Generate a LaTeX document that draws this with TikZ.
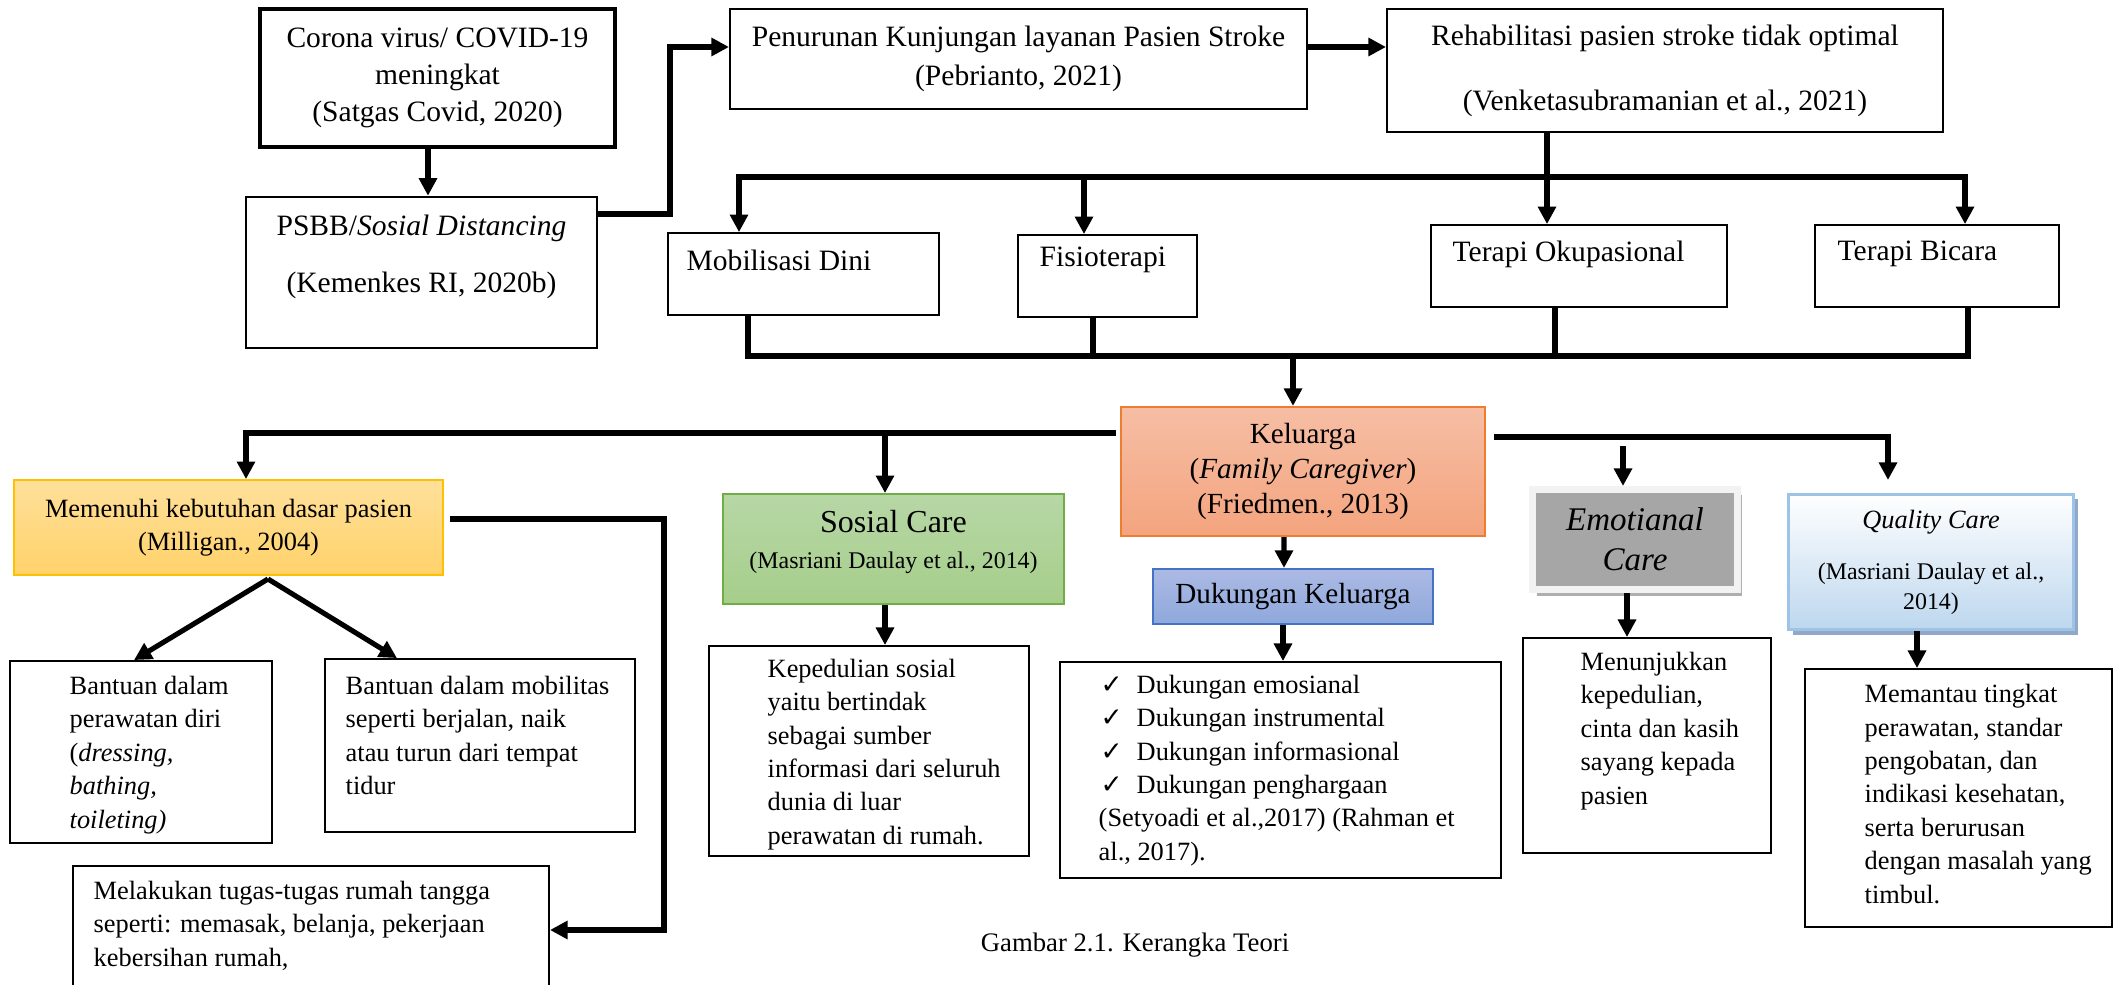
\documentclass[tikz,border=0pt]{standalone}
\usepackage{fontspec}
\setmainfont{Liberation Serif}
\newfontfamily\checkfont{DejaVu Sans}
\usetikzlibrary{arrows.meta,shadows,positioning}

\definecolor{goldline}{RGB}{255,192,0}
\definecolor{goldtop}{RGB}{255,224,155}
\definecolor{goldbot}{RGB}{255,210,106}
\definecolor{greenline}{RGB}{112,173,71}
\definecolor{greentop}{RGB}{183,215,166}
\definecolor{greenbot}{RGB}{166,206,138}
\definecolor{orangeline}{RGB}{237,125,49}
\definecolor{salmontop}{RGB}{246,190,165}
\definecolor{salmonbot}{RGB}{244,164,126}
\definecolor{blueline}{RGB}{68,114,196}
\definecolor{bluetop}{RGB}{172,186,228}
\definecolor{bluebot}{RGB}{142,168,219}
\definecolor{framegray}{RGB}{242,242,242}
\definecolor{midgray}{RGB}{166,166,166}
\definecolor{shadowgray}{RGB}{175,175,175}
\definecolor{skyline}{RGB}{157,195,230}
\definecolor{skyfill}{RGB}{189,215,238}
\definecolor{skyshadow}{RGB}{145,168,200}

\newcommand{\tickmark}{\hspace*{0.02cm}\makebox[0.36cm][l]{\checkfont\fontsize{7.5}{8}\selectfont ✓}}

\begin{document}
\begin{tikzpicture}[x=0.01cm,y=-0.01cm,>={Triangle[width=5pt,length=5pt]}]
	\tikzstyle{plain box}=[draw=black,line width=0.5pt,inner sep=0pt]
	\tikzstyle{head text}=[font=\fontsize{8.4}{10.5}\selectfont,align=center]
	\tikzstyle{desc text}=[font=\fontsize{7.5}{9.5}\selectfont,align=left,anchor=west,inner sep=0pt]
	\tikzstyle{cite text}=[font=\fontsize{6.8}{8.5}\selectfont,align=center]
	\tikzstyle{link line}=[line width=1.45pt]
	\tikzstyle{flow arrow}=[link line,->]
	
	\useasboundingbox (0,0) rectangle (2115,985);
	\clip (0,0) rectangle (2115,985);
	
	% Draw the top row
	\node[plain box,line width=1pt,minimum width=3.55cm,minimum height=1.38cm,head text] (A-1) at (437.5,78) {Corona virus/ COVID-19\\meningkat\\(Satgas Covid, 2020)};
	\node[plain box,line width=0.7pt,minimum width=3.51cm,minimum height=1.51cm] (A-2) at (421.5,272.5) {};
	\node[head text,inner sep=0pt] (A-2-t) at (421.5,256.5) {PSBB/\textit{Sosial Distancing}\\[0.2cm](Kemenkes RI, 2020b)};
	\node[plain box,minimum width=5.77cm,minimum height=1cm,head text,font=\fontsize{8.4}{11.3}\selectfont] (A-3) at (1018.5,59) {Penurunan Kunjungan layanan Pasien Stroke\\(Pebrianto, 2021)};
	\node[plain box,minimum width=5.56cm,minimum height=1.23cm,head text] (A-4) at (1665,70.5) {Rehabilitasi pasien stroke tidak optimal\\[0.28cm](Venketasubramanian et al., 2021)};
	
	% Connect the top row
	\coordinate (P-0) at (428,0);
	\draw[flow arrow] (A-1.south -| P-0) -- (A-2.north -| P-0);
	\coordinate (P-1) at (670,214);
	\draw[flow arrow] (A-2.east |- P-1) -- (P-1) -- (P-1 |- 0,47) -- (A-3.west |- 0,47);
	\draw[flow arrow] (A-3.east |- 0,47) -- (A-4.west |- 0,47);
	
	% Draw the rehabilitation nodes
	\foreach \i/\x/\y/\w/\tx/\ty/\lbl in {1/803.5/274/2.71/686/260/Mobilisasi Dini,
		2/1107.5/276/1.79/1039/260/Fisioterapi,
		3/1579/266/2.96/1452/254/Terapi Okupasional,
		4/1937/266/2.44/1837/254/Terapi Bicara}{
		\node[plain box,minimum width=\w cm,minimum height=0.82cm] (R-\i) at (\x,\y) {};
		\node[head text,anchor=west,inner sep=0pt] (R-\i-t) at (\tx,\ty) {\lbl};
	}
	
	% Split the rehabilitation into its four parts
	\coordinate (B-1) at (739,177);
	\coordinate (B-2) at (1084,177);
	\coordinate (B-3) at (1547,177);
	\coordinate (B-4) at (1965,177);
	\draw[link line] (A-4.south -| B-3) -- (B-3);
	\draw[link line,line cap=rect] (B-1) -- (B-4);
	\foreach \i in {1,...,4}
	\draw[flow arrow] (B-\i) -- (B-\i |- R-\i.north);
	
	% Join the four parts again
	\coordinate (U-0) at (1293,356);
	\coordinate (U-1) at (748,356);
	\coordinate (U-2) at (1093,356);
	\coordinate (U-3) at (1555,356);
	\coordinate (U-4) at (1968,356);
	\foreach \i in {1,...,4}
	\draw[link line] (R-\i.south -| U-\i) -- (U-\i);
	\draw[link line,line cap=rect] (U-1) -- (U-4);
	
	% Draw the family node
	\node[plain box,draw=orangeline,line width=0.6pt,top color=salmontop,bottom color=salmonbot,minimum width=3.64cm,minimum height=1.29cm,head text,font=\fontsize{8.3}{9.9}\selectfont] (K) at (1303,471.5) {Keluarga\\(\textit{Family Caregiver})\\(Friedmen., 2013)};
	\draw[flow arrow] (U-0) -- (U-0 |- K.north);
	
	% Draw the care nodes
	\node[plain box,draw=goldline,line width=0.5pt,top color=goldtop,bottom color=goldbot,minimum width=4.29cm,minimum height=0.95cm,align=center,font=\fontsize{7.5}{9.4}\selectfont] (C-1) at (228.5,527.5) {Memenuhi kebutuhan dasar pasien\\(Milligan., 2004)};
	\node[plain box,draw=greenline,line width=0.5pt,top color=greentop,bottom color=greenbot,minimum width=3.41cm,minimum height=1.1cm] (C-2) at (893.5,549) {};
	\node[cite text,font=\fontsize{6.8}{10.2}\selectfont,inner sep=0pt] (C-2-t) at (893.5,542) {{\fontsize{9.1}{10.2}\selectfont Sosial Care}\\(Masriani Daulay et al., 2014)};
	\node[plain box,draw=blueline,line width=0.6pt,top color=bluetop,bottom color=bluebot,minimum width=2.8cm,minimum height=0.55cm,font=\fontsize{8.3}{9.9}\selectfont] (C-3) at (1293,596.5) {Dukungan Keluarga};
	\node[draw=framegray,line width=2pt,fill=midgray,minimum width=2.05cm,minimum height=1cm,inner sep=0pt,align=center,font=\fontsize{9.4}{11.4}\selectfont\itshape,
		drop shadow={shadow xshift=0.045cm,shadow yshift=-0.06cm,fill=shadowgray,opacity=1}] (C-4) at (1635,539.5) {Emotianal\\Care};
	\node[draw=skyline,line width=0.85pt,top color=white,bottom color=skyfill,minimum width=2.85cm,minimum height=1.35cm,inner sep=0pt,cite text,
		drop shadow={shadow xshift=0.045cm,shadow yshift=-0.05cm,fill=skyshadow,opacity=1}] (C-5) at (1931,562) {{\fontsize{7.5}{8.5}\selectfont\textit{Quality Care}}\\[0.21cm](Masriani Daulay et al.,\\2014)};
	
	% Connect the family node with the care nodes
	\coordinate (L-1) at (246,433);
	\coordinate (L-2) at (885,433);
	\draw[link line,line cap=rect,shorten <=0.06cm] (K.west |- L-1) -- (L-1);
	\draw[flow arrow] (L-1) -- (L-1 |- C-1.north);
	\draw[flow arrow] (L-2) -- (L-2 |- C-2.north);
	\draw[flow arrow] ([xshift=-0.19cm]K.south) -- ([xshift=-0.09cm]C-3.north);
	\coordinate (Q-1) at (1888,437);
	\coordinate (E-1) at (1623,446);
	\draw[flow arrow,shorten <=0.08cm,shorten >=0.13cm] (K.east |- Q-1) -- (Q-1) -- (Q-1 |- C-5.north);
	\draw[flow arrow] (E-1) -- (E-1 |- C-4.north);
	
	% Draw the detail nodes
	\foreach \i/\x/\y/\w/\h in {1/141/752/2.62/1.82, 2/480/745.5/3.10/1.73, 3/311/930/4.76/1.28,
		4/869/751/3.20/2.10, 5/1280.5/770/4.41/2.16, 6/1647/745.5/2.48/2.15, 7/1958.5/798/3.07/2.58}
	\node[plain box,minimum width=\w cm,minimum height=\h cm] (D-\i) at (\x,\y) {};
	
	\node[desc text] (D-1-t) at (69,755) {Bantuan dalam\\perawatan diri\\(\textit{dressing,}\\\textit{bathing,}\\\textit{toileting)}};
	\node[desc text] (D-2-t) at (345,735.5) {Bantuan dalam mobilitas\\seperti berjalan, naik\\atau turun dari tempat\\tidur};
	\node[desc text] (D-3-t) at (93,925.5) {Melakukan tugas-tugas rumah tangga\\seperti: memasak, belanja, pekerjaan\\kebersihan rumah,};
	\node[desc text] (D-4-t) at (767,754.5) {Kepedulian sosial\\yaitu bertindak\\sebagai sumber\\informasi dari seluruh\\dunia di luar\\perawatan di rumah.};
	\node[desc text] (D-5-t) at (1098,770.5) {\tickmark Dukungan emosianal\\\tickmark Dukungan instrumental\\\tickmark Dukungan informasional\\\tickmark Dukungan penghargaan\\(Setyoadi et al.,2017) (Rahman et\\al., 2017).};
	\node[desc text] (D-6-t) at (1580,731) {Menunjukkan\\kepedulian,\\cinta dan kasih\\sayang kepada\\pasien};
	\node[desc text] (D-7-t) at (1864,794) {Memantau tingkat\\perawatan, standar\\pengobatan, dan\\indikasi kesehatan,\\serta berurusan\\dengan masalah yang\\timbul.};
	
	% Connect the care nodes with the detail nodes
	\coordinate (V) at (268,579);
	\draw[flow arrow] (V) -- ([xshift=-0.07cm]D-1.north);
	\draw[flow arrow] (V) -- ([xshift=-0.83cm]D-2.north);
	\coordinate (M-1) at (664,519);
	\draw[flow arrow,shorten <=0.06cm] (C-1.east |- M-1) -- (M-1) -- (M-1 |- D-3.east) -- (D-3.east);
	\draw[flow arrow] (L-2 |- C-2.south) -- (L-2 |- D-4.north);
	\draw[flow arrow] ([xshift=-0.1cm]C-3.south) -- ([xshift=-0.1cm]C-3.south |- D-5.north);
	\draw[flow arrow] ([xshift=-0.08cm]C-4.south) -- ([xshift=-0.08cm]C-4.south |- D-6.north);
	\draw[flow arrow] ([xshift=-0.14cm]C-5.south) -- ([xshift=-0.14cm]C-5.south |- D-7.north);
	
	% Caption
	\node[font=\fontsize{7.6}{9}\selectfont] (cap) at (1135,945) {Gambar 2.1. Kerangka Teori};
	
\end{tikzpicture}
\end{document}
